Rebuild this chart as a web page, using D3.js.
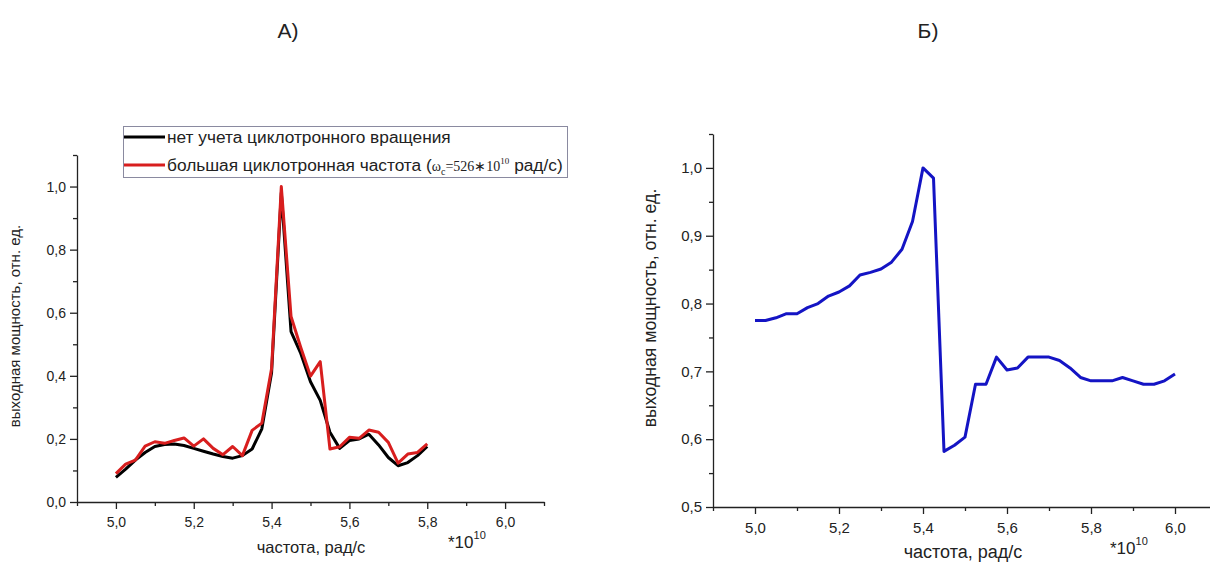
<!DOCTYPE html>
<html>
<head>
<meta charset="utf-8">
<script src="https://cdn.jsdelivr.net/npm/d3@7"></script>
<style>
  body { margin: 0; background: #fff; }
  svg text { font-family: "Liberation Sans", Arial, sans-serif; fill: #222; }
</style>
</head>
<body>
<svg id="chart" width="1210" height="564"></svg>
<script>
// frequency grid, *10^10 rad/s
const freqA = [5.0, 5.025, 5.05, 5.075, 5.1, 5.125, 5.15, 5.175, 5.2, 5.225, 5.25, 5.275, 5.3, 5.325,
  5.35, 5.375, 5.4, 5.425, 5.45, 5.475, 5.5, 5.525, 5.55, 5.575, 5.6, 5.625, 5.65, 5.675, 5.7,
  5.725, 5.75, 5.775, 5.8];
// no cyclotron rotation
const powerNoRot = [0.078, 0.104, 0.133, 0.157, 0.176, 0.182, 0.184, 0.179, 0.170, 0.161, 0.152, 0.144,
  0.139, 0.147, 0.168, 0.232, 0.41, 0.98, 0.54, 0.471, 0.381, 0.322, 0.221, 0.170, 0.195, 0.200,
  0.215, 0.181, 0.141, 0.115, 0.125, 0.147, 0.176];
// large cyclotron frequency
const powerHighCyc = [0.090, 0.120, 0.133, 0.177, 0.191, 0.186, 0.195, 0.203, 0.177, 0.200, 0.170, 0.150,
  0.176, 0.147, 0.227, 0.250, 0.423, 1.0, 0.588, 0.49, 0.399, 0.445, 0.168, 0.175, 0.205, 0.202,
  0.228, 0.221, 0.189, 0.123, 0.152, 0.157, 0.184];

const freqB = [5.0, 5.025, 5.05, 5.075, 5.1, 5.125, 5.15, 5.175, 5.2, 5.225, 5.25, 5.275, 5.3, 5.325,
  5.35, 5.375, 5.4, 5.425, 5.45, 5.475, 5.5, 5.525, 5.55, 5.575, 5.6, 5.625, 5.65, 5.675, 5.7,
  5.725, 5.75, 5.775, 5.8, 5.825, 5.85, 5.875, 5.9, 5.925, 5.95, 5.975, 6.0];
const powerB = [0.775, 0.775, 0.779, 0.785, 0.785, 0.794, 0.800, 0.811, 0.817, 0.826, 0.842, 0.846,
  0.851, 0.861, 0.880, 0.921, 1.0, 0.985, 0.582, 0.591, 0.603, 0.681, 0.681, 0.721, 0.702, 0.705,
  0.721, 0.721, 0.721, 0.716, 0.705, 0.691, 0.686, 0.686, 0.686, 0.691, 0.686, 0.681, 0.681, 0.686, 0.696];

const xTicks = [5.0, 5.2, 5.4, 5.6, 5.8, 6.0];
const yTicksA = [0.0, 0.2, 0.4, 0.6, 0.8, 1.0];
const yTicksB = [0.5, 0.6, 0.7, 0.8, 0.9, 1.0];

const xTitle = 'частота, рад/с';
const yTitle = 'выходная мощность, отн. ед.';

const svg = d3.select('#chart');
const fmt = (d) => d3.format('.1f')(d).replace('.', ',');

function drawAxes(x, y, yTicks, yMinor, xMinor, fs) {
  const g = svg.append('g');
  const [y0] = y.range();
  const [x0] = x.range();

  g.append('g')
    .attr('transform', `translate(0,${y0})`)
    .call(d3.axisBottom(x).tickValues(xMinor).tickSize(4).tickFormat(''))
    .call((s) => s.select('.domain').remove());
  g.append('g')
    .attr('transform', `translate(0,${y0})`)
    .call(d3.axisBottom(x).tickValues(xTicks).tickSize(7).tickPadding(8).tickSizeOuter(0).tickFormat(fmt));

  g.append('g')
    .attr('transform', `translate(${x0},0)`)
    .call(d3.axisLeft(y).tickValues(yMinor).tickSize(4).tickFormat(''))
    .call((s) => s.select('.domain').remove());
  g.append('g')
    .attr('transform', `translate(${x0},0)`)
    .call(d3.axisLeft(y).tickValues(yTicks).tickSize(7).tickPadding(4).tickSizeOuter(0).tickFormat(fmt));

  g.selectAll('.domain, .tick line').attr('stroke', '#222').attr('stroke-width', 1.3);
  g.selectAll('.tick text').attr('font-size', fs).attr('fill', '#222')
    .attr('font-family', '"Liberation Sans", Arial, sans-serif');
}

function label(cx, cy, yx, yy, fx, fy) {
  svg.append('text').attr('x', cx).attr('y', cy).attr('text-anchor', 'middle')
    .attr('font-size', fx).text(xTitle);
  svg.append('text').attr('transform', `translate(${yx},${yy}) rotate(-90)`)
    .attr('text-anchor', 'middle').attr('font-size', fy).attr('dy', '0.35em').text(yTitle);
}

function mult(x0, y0) {
  const t = svg.append('text').attr('x', x0).attr('y', y0).attr('font-size', 17);
  t.append('tspan').text('*10');
  t.append('tspan').attr('dy', -9).attr('font-size', 11).text('10');
}

// ---- A) ----
const xA = d3.scaleLinear().domain([4.9, 6.1]).range([77, 544]);
const yA = d3.scaleLinear().domain([0, 1.1]).range([502, 155]);
drawAxes(xA, yA, yTicksA, [0.1, 0.3, 0.5, 0.7, 0.9, 1.1], [4.9, 5.1, 5.3, 5.5, 5.7, 5.9, 6.1], 14);

const lineA = (vals) => d3.line().x((d, i) => xA(freqA[i])).y((d) => yA(d))(vals);
svg.append('path').attr('d', lineA(powerNoRot)).attr('fill', 'none')
  .attr('stroke', '#000').attr('stroke-width', 3).attr('stroke-linejoin', 'round');
svg.append('path').attr('d', lineA(powerHighCyc)).attr('fill', 'none')
  .attr('stroke', '#d81e1e').attr('stroke-width', 3).attr('stroke-linejoin', 'round');

label(311, 553, 15, 326, 16.5, 15);
mult(448, 548);

svg.append('text').attr('x', 288).attr('y', 38).attr('text-anchor', 'middle')
  .attr('font-family', '"DejaVu Sans", sans-serif').attr('font-size', 21).attr('fill', '#111').text('А)');

// legend
const lg = svg.append('g');
lg.append('rect').attr('x', 123.5).attr('y', 126.5).attr('width', 444).attr('height', 51)
  .attr('fill', '#fff').attr('stroke', '#8a8aa0').attr('stroke-width', 1);
lg.append('line').attr('x1', 124).attr('x2', 165).attr('y1', 137).attr('y2', 137)
  .attr('stroke', '#000').attr('stroke-width', 3);
lg.append('line').attr('x1', 124).attr('x2', 165).attr('y1', 165).attr('y2', 165)
  .attr('stroke', '#d81e1e').attr('stroke-width', 3);
lg.append('text').attr('x', 167).attr('y', 143).attr('font-size', 17.3).attr('fill', '#111')
  .text('нет учета циклотронного вращения');
const t2 = lg.append('text').attr('x', 167).attr('y', 171).attr('font-size', 17.3).attr('fill', '#111');
t2.append('tspan').text('большая циклотронная частота (');
t2.append('tspan').attr('font-family', '"Liberation Serif", serif').attr('font-size', 14).text('ω');
t2.append('tspan').attr('font-family', '"Liberation Serif", serif').attr('font-size', 10).attr('dy', 4).text('c');
t2.append('tspan').attr('font-family', '"Liberation Serif", serif').attr('font-size', 14).attr('dy', -4).text('=526∗10');
t2.append('tspan').attr('font-family', '"Liberation Serif", serif').attr('font-size', 9).attr('dy', -7).text('10');
t2.append('tspan').attr('dy', 7).text(' рад/с)');

// ---- Б) ----
const xB = d3.scaleLinear().domain([4.9, 6.1]).range([713, 1217]);
const yB = d3.scaleLinear().domain([0.5, 1.05]).range([507, 134]);
drawAxes(xB, yB, yTicksB, [0.55, 0.65, 0.75, 0.85, 0.95, 1.05], [4.9, 5.1, 5.3, 5.5, 5.7, 5.9, 6.1], 15);

svg.append('path')
  .attr('d', d3.line().x((d, i) => xB(freqB[i])).y((d) => yB(d))(powerB))
  .attr('fill', 'none').attr('stroke', '#1414c4').attr('stroke-width', 3).attr('stroke-linejoin', 'round');

label(963, 558, 650, 308, 18, 17.7);
mult(1110, 554);

svg.append('text').attr('x', 928).attr('y', 38).attr('text-anchor', 'middle')
  .attr('font-family', '"DejaVu Sans", sans-serif').attr('font-size', 21).attr('fill', '#111').text('Б)');
</script>
</body>
</html>
